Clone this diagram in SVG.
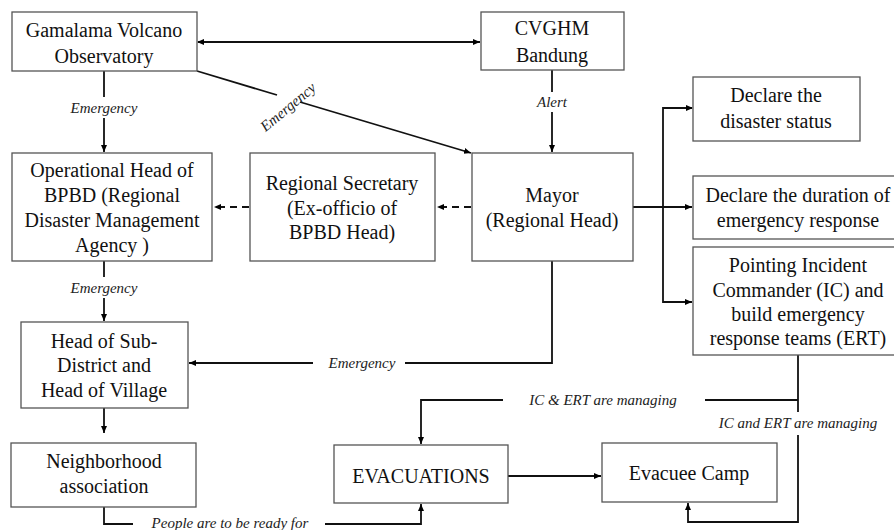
<svg xmlns="http://www.w3.org/2000/svg" width="894" height="530" viewBox="0 0 894 530">
<defs>
<marker id="ah" markerWidth="8" markerHeight="8" refX="7" refY="4" orient="auto" markerUnits="userSpaceOnUse">
<path d="M0,1 L7,4 L0,7 Z" fill="#000"/>
</marker>
<marker id="ahs" markerWidth="8" markerHeight="8" refX="1" refY="4" orient="auto" markerUnits="userSpaceOnUse">
<path d="M7,1 L0,4 L7,7 Z" fill="#000"/>
</marker>
<style>
.box{fill:#fff;stroke:#555;stroke-width:1.3}
.t{font-family:'Liberation Serif','Times New Roman','DejaVu Serif',serif;font-size:20px;fill:#111;text-anchor:middle}
.l{font-family:'Liberation Serif','Times New Roman','DejaVu Serif',serif;font-size:15px;font-style:italic;fill:#222;text-anchor:middle}
.c{fill:none;stroke:#111;stroke-width:1.8}
.d{fill:none;stroke:#111;stroke-width:1.8;stroke-dasharray:7,5}
</style>
</defs>
<rect width="894" height="530" fill="#fff"/>
<g id="connectors" font-family="Liberation Serif, serif">
<line class="c" x1="198" y1="42" x2="480" y2="42" marker-start="url(#ahs)" marker-end="url(#ah)"/>
<line class="c" x1="104" y1="71" x2="104" y2="97"/>
<line class="c" x1="104" y1="118" x2="104" y2="152" marker-end="url(#ah)"/>
<line class="c" x1="197" y1="71" x2="277" y2="95"/>
<line class="c" x1="300" y1="102" x2="471" y2="153" marker-end="url(#ah)"/>
<line class="c" x1="552" y1="70" x2="552" y2="92"/>
<line class="c" x1="552" y1="112" x2="552" y2="152" marker-end="url(#ah)"/>
<line class="c" x1="633" y1="207" x2="692" y2="207" marker-end="url(#ah)"/>
<polyline class="c" points="692,108 663,108 663,302 692,302" marker-start="url(#ahs)" marker-end="url(#ah)"/>
<line class="d" x1="471" y1="207" x2="437" y2="207" marker-end="url(#ah)"/>
<line class="d" x1="249" y1="207" x2="214" y2="207" marker-end="url(#ah)"/>
<line class="c" x1="104" y1="261" x2="104" y2="277"/>
<line class="c" x1="104" y1="298" x2="104" y2="321" marker-end="url(#ah)"/>
<polyline class="c" points="552,261 552,363 405,363"/>
<line class="c" x1="313" y1="363" x2="189" y2="363" marker-end="url(#ah)"/>
<line class="c" x1="104" y1="408" x2="104" y2="433" marker-end="url(#ah)"/>
<polyline class="c" points="104,507 104,524 133,524"/>
<polyline class="c" points="325,524 421,524 421,504" marker-end="url(#ah)"/>
<polyline class="c" points="798,355 798,412"/>
<line class="c" x1="798" y1="400" x2="705" y2="400"/>
<polyline class="c" points="503,400 421,400 421,444" marker-end="url(#ah)"/>
<polyline class="c" points="798,435 798,522 688,522 688,503" marker-end="url(#ah)"/>
<line class="c" x1="508" y1="476" x2="601" y2="476" marker-end="url(#ah)"/>
<text class="l" x="104" y="113">Emergency</text>
<text class="l" x="288" y="112" transform="rotate(-40 288 107)">Emergency</text>
<text class="l" x="552" y="107">Alert</text>
<text class="l" x="104" y="293">Emergency</text>
<text class="l" x="362" y="368">Emergency</text>
<text class="l" x="230" y="528">People are to  be ready for</text>
<text class="l" x="603" y="405">IC &amp; ERT are managing</text>
<text class="l" x="798" y="428">IC and ERT are managing</text>
</g>
<g id="gamalama"><rect class="box" x="12" y="12" width="185" height="59"/><text class="t" x="104" y="37">Gamalama Volcano</text><text class="t" x="104" y="63">Observatory</text></g>
<g id="cvghm"><rect class="box" x="481" y="12" width="143" height="58"/><text class="t" x="552" y="35">CVGHM</text><text class="t" x="552" y="62">Bandung</text></g>
<g id="declare-status"><rect class="box" x="693" y="77" width="167" height="64"/><text class="t" x="776" y="102">Declare the</text><text class="t" x="776" y="128">disaster status</text></g>
<g id="operational-head"><rect class="box" x="12" y="153" width="200" height="108"/><text class="t" x="112" y="177">Operational Head of</text><text class="t" x="112" y="202">BPBD (Regional</text><text class="t" x="112" y="227">Disaster Management</text><text class="t" x="112" y="252">Agency )</text></g>
<g id="regional-secretary"><rect class="box" x="250" y="153" width="185" height="108"/><text class="t" x="342" y="190">Regional Secretary</text><text class="t" x="342" y="215">(Ex-officio of</text><text class="t" x="342" y="239">BPBD Head)</text></g>
<g id="mayor"><rect class="box" x="472" y="153" width="161" height="108"/><text class="t" x="552" y="202">Mayor</text><text class="t" x="552" y="227">(Regional Head)</text></g>
<g id="declare-duration"><rect class="box" x="693" y="176" width="203" height="63"/><text class="t" x="798" y="202">Declare the duration of</text><text class="t" x="798" y="227">emergency response</text></g>
<g id="pointing-ic"><rect class="box" x="693" y="247" width="203" height="108"/><text class="t" x="798" y="272">Pointing Incident</text><text class="t" x="798" y="297">Commander (IC) and</text><text class="t" x="798" y="321">build emergency</text><text class="t" x="798" y="345">response teams (ERT)</text></g>
<g id="head-sub-district"><rect class="box" x="21" y="322" width="167" height="86"/><text class="t" x="104" y="348">Head of Sub-</text><text class="t" x="104" y="372">District and</text><text class="t" x="104" y="397">Head of Village</text></g>
<g id="neighborhood"><rect class="box" x="11" y="443" width="185" height="64"/><text class="t" x="104" y="468">Neighborhood</text><text class="t" x="104" y="493">association</text></g>
<g id="evacuations"><rect class="box" x="334" y="445" width="174" height="58"/><text class="t" x="421" y="483">EVACUATIONS</text></g>
<g id="evacuee-camp"><rect class="box" x="602" y="443" width="175" height="59"/><text class="t" x="689" y="480">Evacuee Camp</text></g>
</svg>
